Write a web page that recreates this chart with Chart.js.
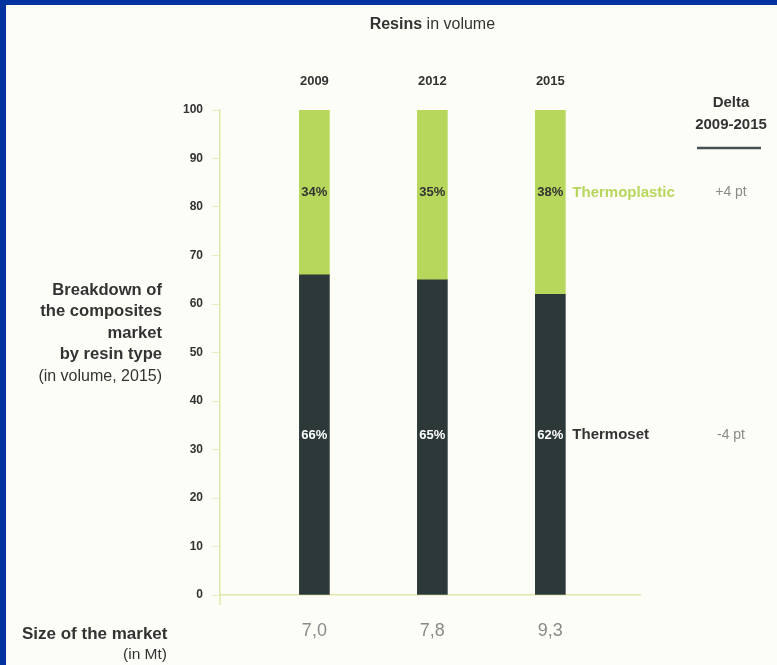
<!DOCTYPE html>
<html>
<head>
<meta charset="utf-8">
<script src="https://cdn.jsdelivr.net/npm/chart.js@4.4.0/dist/chart.umd.min.js"></script>
<style>
    html, body { margin: 0; padding: 0; background: #0033a0; }
    #wrap { position: absolute; left: 0; top: 0; width: 777px; height: 665px; }
</style>
</head>
<body>
<div id="wrap"><canvas id="chart" width="777" height="665"></canvas></div>
<script>
(function () {
    const years = ['2009', '2012', '2015'];
    const thermoset = [66, 65, 62];
    const thermoplastic = [34, 35, 38];
    const marketSize = ['7,0', '7,8', '9,3'];
    const yTicks = [0, 10, 20, 30, 40, 50, 60, 70, 80, 90, 100];

    const FONT = '"Liberation Sans", Arial, sans-serif';
    const DARK = '#2d3839';
    const GREEN = '#b7d65c';
    const AXIS = '#dde9a8';
    const TEXT = '#333333';
    const GREY = '#8a8a8a';

    // where the in-bar percentages sit (in axis units)
    const labelLevel = { top: 83, bottom: 33 };

    function pts(values) {
        return values.map(function (v, i) { return { x: i, y: v }; });
    }

    const pagePlugin = {
        id: 'page',
        beforeDraw: function (chart) {
            const ctx = chart.ctx;
            ctx.save();
            ctx.fillStyle = '#0033a0';
            ctx.fillRect(0, 0, chart.width, chart.height);
            ctx.fillStyle = '#fdfdf8';
            ctx.fillRect(6, 5, chart.width - 6, chart.height - 5);
            ctx.restore();
        }
    };

    const textPlugin = {
        id: 'texts',
        afterDraw: function (chart) {
            const ctx = chart.ctx;
            const y = chart.scales.y;
            const setMeta = chart.getDatasetMeta(0);
            const plastMeta = chart.getDatasetMeta(1);
            ctx.save();
            ctx.textBaseline = 'middle';

            // title
            ctx.font = 'bold 16px ' + FONT;
            const w1 = ctx.measureText('Resins').width;
            ctx.font = '16px ' + FONT;
            const w2 = ctx.measureText(' in volume').width;
            const cx = setMeta.data[1].x;
            let tx = cx - (w1 + w2) / 2;
            ctx.fillStyle = TEXT;
            ctx.textAlign = 'left';
            ctx.font = 'bold 16px ' + FONT;
            ctx.fillText('Resins', tx, 25);
            ctx.font = '16px ' + FONT;
            ctx.fillText(' in volume', tx + w1, 25);

            // percentages inside bars
            ctx.textAlign = 'center';
            ctx.font = 'bold 13px ' + FONT;
            plastMeta.data.forEach(function (bar, i) {
                ctx.fillStyle = TEXT;
                ctx.fillText(thermoplastic[i] + '%', bar.x, y.getPixelForValue(labelLevel.top));
            });
            setMeta.data.forEach(function (bar, i) {
                ctx.fillStyle = '#ffffff';
                ctx.fillText(thermoset[i] + '%', bar.x, y.getPixelForValue(labelLevel.bottom));
            });

            // series names next to last bar
            const last = setMeta.data[setMeta.data.length - 1];
            const nx = last.x + last.width / 2 + 7;
            ctx.textAlign = 'left';
            ctx.font = 'bold 15px ' + FONT;
            ctx.fillStyle = GREEN;
            ctx.fillText('Thermoplastic', nx, y.getPixelForValue(labelLevel.top));
            ctx.fillStyle = TEXT;
            ctx.fillText('Thermoset', nx, y.getPixelForValue(labelLevel.bottom));

            // delta column
            const dx = 731;
            ctx.textAlign = 'center';
            ctx.fillStyle = TEXT;
            ctx.font = 'bold 15px ' + FONT;
            ctx.fillText('Delta', dx, 103);
            ctx.fillText(years[0] + '-' + years[years.length - 1], dx, 125);
            ctx.strokeStyle = '#4a5050';
            ctx.lineWidth = 2.5;
            ctx.beginPath();
            ctx.moveTo(697, 148);
            ctx.lineTo(761, 148);
            ctx.stroke();
            const n = years.length - 1;
            const dPlast = thermoplastic[n] - thermoplastic[0];
            const dSet = thermoset[n] - thermoset[0];
            ctx.fillStyle = GREY;
            ctx.font = '14px ' + FONT;
            ctx.fillText((dPlast > 0 ? '+' : '') + dPlast + ' pt', dx, y.getPixelForValue(labelLevel.top));
            ctx.fillText((dSet > 0 ? '+' : '') + dSet + ' pt', dx, y.getPixelForValue(labelLevel.bottom));

            // left block
            ctx.textAlign = 'right';
            ctx.fillStyle = TEXT;
            ctx.font = 'bold 16.6px ' + FONT;
            ['Breakdown of', 'the composites', 'market', 'by resin type'].forEach(function (s, i) {
                ctx.fillText(s, 162, 290 + i * 21.5);
            });
            ctx.font = '16px ' + FONT;
            ctx.fillText('(in volume, 2015)', 162, 377);

            // bottom block
            ctx.font = 'bold 17px ' + FONT;
            ctx.textAlign = 'left';
            ctx.fillText('Size of the market', 22, 634);
            ctx.textAlign = 'right';
            ctx.font = '15.5px ' + FONT;
            ctx.fillText('(in Mt)', 167, 655);

            // small extension of the y axis under zero
            ctx.strokeStyle = AXIS;
            ctx.lineWidth = 1.5;
            ctx.beginPath();
            ctx.moveTo(chart.chartArea.left, chart.chartArea.bottom);
            ctx.lineTo(chart.chartArea.left, chart.chartArea.bottom + 10);
            ctx.stroke();
            ctx.restore();
        }
    };

    const xMin = -0.8;
    const xMax = 2.76;

    new Chart(document.getElementById('chart').getContext('2d'), {
        type: 'bar',
        data: {
            datasets: [
                {
                    label: 'Thermoset',
                    data: pts(thermoset),
                    backgroundColor: DARK,
                    borderWidth: 0,
                    barThickness: 30
                },
                {
                    label: 'Thermoplastic',
                    data: pts(thermoplastic),
                    backgroundColor: GREEN,
                    borderWidth: 0,
                    barThickness: 30
                }
            ]
        },
        options: {
            responsive: false,
            animation: false,
            devicePixelRatio: 1,
            layout: { padding: { left: 150, right: 137, top: 70, bottom: 20 } },
            plugins: {
                legend: { display: false },
                tooltip: { enabled: false }
            },
            scales: {
                x: {
                    type: 'linear',
                    position: 'top',
                    stacked: true,
                    offset: false,
                    min: xMin,
                    max: xMax,
                    afterFit: function (s) { s.height = 40; },
                    afterBuildTicks: function (s) {
                        s.ticks = years.map(function (yr, i) { return { value: i }; });
                    },
                    ticks: {
                        padding: 21,
                        color: TEXT,
                        font: { family: FONT, size: 13, weight: 'bold' },
                        callback: function (v) { return years[v]; }
                    },
                    grid: { display: false, drawTicks: false },
                    border: { display: false }
                },
                x2: {
                    type: 'linear',
                    axis: 'x',
                    position: 'bottom',
                    offset: false,
                    min: xMin,
                    max: xMax,
                    afterFit: function (s) { s.height = 50; },
                    afterBuildTicks: function (s) {
                        s.ticks = marketSize.map(function (m, i) { return { value: i }; });
                    },
                    ticks: {
                        padding: 25,
                        color: GREY,
                        font: { family: FONT, size: 18 },
                        callback: function (v) { return marketSize[v]; }
                    },
                    grid: { display: false, drawTicks: false },
                    border: { display: true, color: AXIS, width: 1.5 }
                },
                y: {
                    type: 'linear',
                    stacked: true,
                    min: 0,
                    max: 100,
                    afterFit: function (s) { s.width = 70; },
                    afterBuildTicks: function (s) {
                        s.ticks = yTicks.map(function (v) { return { value: v }; });
                    },
                    ticks: {
                        padding: 9,
                        color: TEXT,
                        font: { family: FONT, size: 12, weight: 'bold' }
                    },
                    grid: { drawOnChartArea: false, drawTicks: true, tickLength: 8, color: '#e6eec8' },
                    border: { display: true, color: AXIS, width: 1.5 }
                }
            }
        },
        plugins: [pagePlugin, textPlugin]
    });
})();
</script>
</body>
</html>
